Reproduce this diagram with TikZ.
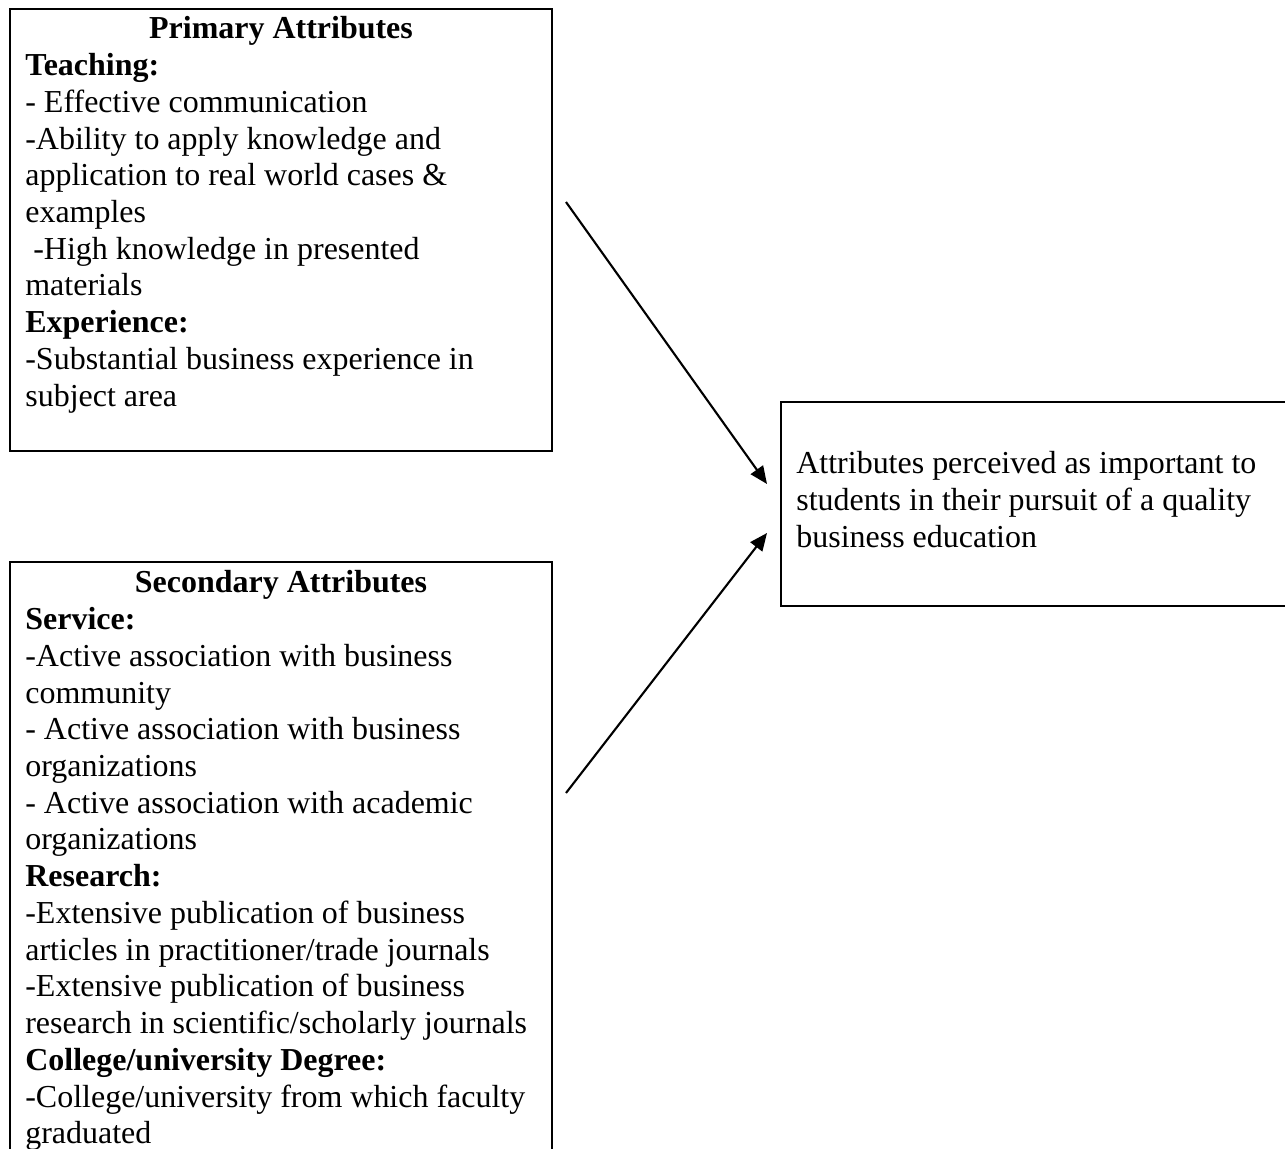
\documentclass[tikz,border=0pt]{standalone}
\usepackage{fontspec}
\setmainfont{Liberation Serif}
\usetikzlibrary{arrows.meta}
\tikzstyle{box} = [rectangle, draw=black, line width=1.4pt, fill=white, inner sep=0pt]
\tikzstyle{heading} = [anchor=base, inner sep=0pt]
\tikzstyle{body} = [anchor=north west, align=left, inner sep=0pt]
\tikzstyle{arrow} = [-{Triangle[length=10pt, width=8.5pt]}, line width=1.2pt]

\begin{document}
\begin{tikzpicture}[x=0.02cm, y=-0.02cm, font=\fontsize{18.2pt}{20.9pt}\selectfont]

  \useasboundingbox (0,0) rectangle (1285,1149);
  \clip (0,0) rectangle (1285,1149);

  % We start by placing the boxes
  \node (primary) [box, minimum width=10.84cm, minimum height=8.84cm] at (281,230) {};
  \node (secondary) [box, minimum width=10.84cm, minimum height=12.76cm] at (281,881) {};
  \node (outcome) [box, minimum width=10.6cm, minimum height=4.08cm] at (1046,504) {};

  % Then the texts inside them
  \node (primary_title) [heading] at (281,38.6) {\textbf{Primary Attributes}};
  \node (primary_text) [body] at (25,49.6) {\strut\textbf{Teaching:}\\
    - Effective communication\\
    -Ability to apply knowledge and\\
    application to real world cases \&\\
    examples\\
    \hspace*{0.25em}-High knowledge in presented\\
    materials\\
    \textbf{Experience:}\\
    -Substantial business experience in\\
    subject area};

  \node (secondary_title) [heading] at (281,592.6) {\textbf{Secondary Attributes}};
  \node (secondary_text) [body] at (25,603.6) {\strut\textbf{Service:}\\
    -Active association with business\\
    community\\
    - Active association with business\\
    organizations\\
    - Active association with academic\\
    organizations\\
    \textbf{Research:}\\
    -Extensive publication of business\\
    articles in practitioner/trade journals\\
    -Extensive publication of business\\
    research in scientific/scholarly journals\\
    \textbf{College/university Degree:}\\
    -College/university from which faculty\\
    graduated};

  \node (outcome_text) [body] at (796,447.9) {\strut Attributes perceived as important to\\
    students in their pursuit of a quality\\
    business education};

  % Draw the connections between boxes
  \coordinate (primary_out) at (566,202);
  \coordinate (secondary_out) at (566,793);
  \coordinate (outcome_in_a) at (767,484);
  \coordinate (outcome_in_b) at (767,533);
  \draw [arrow] (primary_out) -- (outcome_in_a);
  \draw [arrow] (secondary_out) -- (outcome_in_b);

\end{tikzpicture}
\end{document}
